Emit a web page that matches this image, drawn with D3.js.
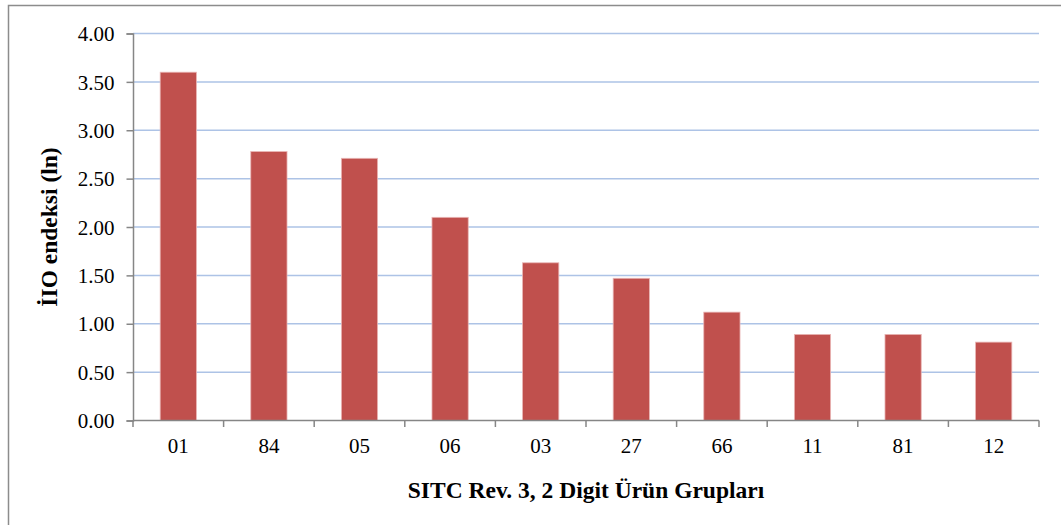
<!DOCTYPE html>
<html>
<head>
<meta charset="utf-8">
<script src="https://cdn.jsdelivr.net/npm/d3@7"></script>
<style>
  html, body { margin: 0; padding: 0; background: #fff; }
  svg { display: block; }
  text { font-family: "Liberation Serif", "Times New Roman", serif; fill: #000; }
</style>
</head>
<body>
<svg id="chart" width="1061" height="525"></svg>
<script>
// SITC Rev. 3 two-digit product groups and their IIT index (ln)
const categories = ["01", "84", "05", "06", "03", "27", "66", "11", "81", "12"];
const values = [3.60, 2.78, 2.71, 2.10, 1.63, 1.47, 1.12, 0.89, 0.89, 0.81];
const yTicks = [0, 0.5, 1, 1.5, 2, 2.5, 3, 3.5, 4];
const yTitle = "İIO endeksi (ln)";
const xTitle = "SITC Rev. 3, 2 Digit Ürün Grupları";

const svg = d3.select("#chart");
const W = 1061, H = 525;
const plot = { left: 133, right: 1039, top: 33.5, bottom: 420.5 };

// Chart frame
svg.append("rect")
  .attr("x", 8.5).attr("y", 5.5)
  .attr("width", W + 20).attr("height", H + 20)
  .attr("fill", "none").attr("stroke", "#8c8c8c").attr("stroke-width", 1.5);

const x = d3.scaleBand()
  .domain(categories)
  .range([plot.left, plot.right])
  .paddingInner(0.6)
  .paddingOuter(0.3);

const y = d3.scaleLinear()
  .domain([0, 4])
  .range([plot.bottom, plot.top]);

// Horizontal gridlines
svg.append("g")
  .selectAll("line")
  .data(yTicks.filter(d => d > 0))
  .join("line")
  .attr("x1", plot.left).attr("x2", plot.right)
  .attr("y1", d => y(d)).attr("y2", d => y(d))
  .attr("stroke", "#adc3e6").attr("stroke-width", 1.5);

// Bars
svg.append("g")
  .selectAll("rect")
  .data(categories.map((c, i) => ({ c, v: values[i] })))
  .join("rect")
  .attr("x", d => x(d.c))
  .attr("width", x.bandwidth())
  .attr("y", d => y(d.v))
  .attr("height", d => y(0) - y(d.v))
  .attr("fill", "#c0504d")
  .attr("stroke", "#e9b6b5").attr("stroke-width", 0.8);

// Y axis
const yAxis = d3.axisLeft(y)
  .tickValues(yTicks)
  .tickFormat(d3.format(".2f"))
  .tickSize(6.5)
  .tickPadding(12);
const gy = svg.append("g")
  .attr("transform", `translate(${plot.left},0)`)
  .call(yAxis);
gy.select(".domain").attr("stroke", "#868686").attr("stroke-width", 1.5);
gy.selectAll(".tick line").attr("stroke", "#868686").attr("stroke-width", 1.5);
gy.selectAll(".tick text")
  .attr("font-family", "Liberation Serif, Times New Roman, serif")
  .attr("font-size", 21).attr("fill", "#000")
  .attr("dy", "0.34em");

// X axis: category labels centred in each band, tick marks on band boundaries
const step = x.step();
const bounds = categories.map(c => x(c) + x.bandwidth() / 2 - step / 2)
  .concat([x(categories[categories.length - 1]) + x.bandwidth() / 2 + step / 2]);

svg.append("line")
  .attr("x1", plot.left).attr("x2", plot.right)
  .attr("y1", y(0)).attr("y2", y(0))
  .attr("stroke", "#868686").attr("stroke-width", 1.5);

svg.append("g")
  .selectAll("line")
  .data(bounds)
  .join("line")
  .attr("x1", d => d).attr("x2", d => d)
  .attr("y1", y(0)).attr("y2", y(0) + 6.5)
  .attr("stroke", "#868686").attr("stroke-width", 1.5);

svg.append("g")
  .selectAll("text")
  .data(categories)
  .join("text")
  .attr("x", d => x(d) + x.bandwidth() / 2)
  .attr("y", 453)
  .attr("text-anchor", "middle")
  .attr("font-size", 21)
  .text(d => d);

// Axis titles
svg.append("text")
  .attr("transform", `translate(57,${(plot.top + plot.bottom) / 2}) rotate(-90)`)
  .attr("text-anchor", "middle")
  .attr("font-size", 23.5)
  .attr("font-weight", "bold")
  .text(yTitle);

svg.append("text")
  .attr("x", (plot.left + plot.right) / 2)
  .attr("y", 498)
  .attr("text-anchor", "middle")
  .attr("font-size", 23.5)
  .attr("font-weight", "bold")
  .text(xTitle);
</script>
</body>
</html>
